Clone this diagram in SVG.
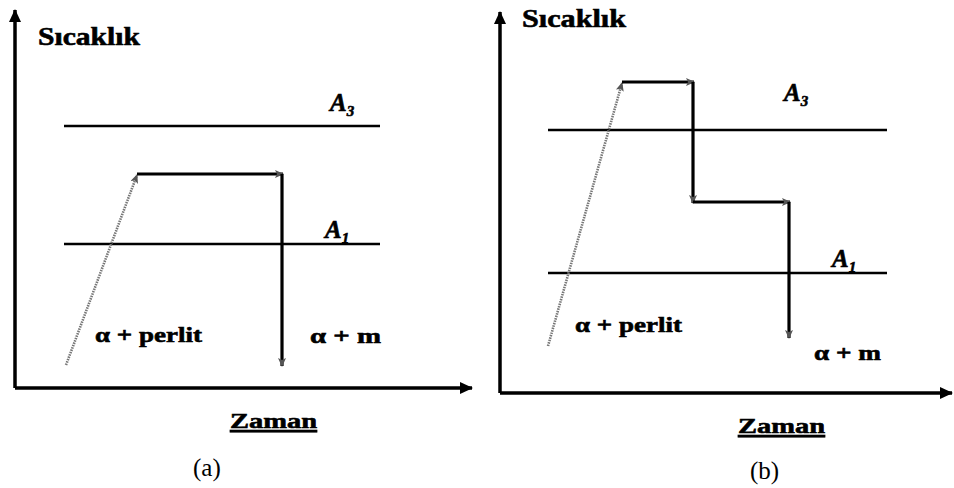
<svg xmlns="http://www.w3.org/2000/svg" width="954" height="488" viewBox="0 0 954 488">
<style>
.axis{stroke:#000;stroke-width:3.5;fill:none}
.lvl{stroke:#000;stroke-width:2.6;fill:none}
.path{stroke:#000;stroke-width:3.2;fill:none}
.heat{stroke:#777;stroke-width:2.6;stroke-dasharray:1.5 1;fill:none}
.lbl{font-family:"Liberation Serif","Times New Roman",serif;font-weight:bold;fill:#000;stroke:#000;stroke-width:0.6}
.ai{font-family:"Liberation Serif","Times New Roman",serif;font-weight:bold;font-style:italic;fill:#000;stroke:#000;stroke-width:0.6}
.cap{font-family:"Liberation Serif","Times New Roman",serif;font-size:25px;fill:#000}
</style>
<defs>
<marker id="ax" markerUnits="userSpaceOnUse" markerWidth="14" markerHeight="12" refX="12" refY="6" orient="auto">
<path d="M0,0 L13,6 L0,12 z" fill="#000"/>
</marker>
<marker id="sm" markerUnits="userSpaceOnUse" markerWidth="10" markerHeight="8" refX="8" refY="4" orient="auto">
<path d="M0,0 L9,4 L0,8 L2,4 z" fill="#555"/>
</marker>
</defs>
<g id="panel-a">
<g id="axes-a">
<path class="axis" d="M15,388 L15,10" marker-end="url(#ax)"/>
<path class="axis" d="M15,388 L472,388" marker-end="url(#ax)"/>
</g>
<g id="levels-a">
<line class="lvl" x1="64" y1="126" x2="380" y2="126"/>
<line class="lvl" x1="64" y1="244" x2="380" y2="244"/>
</g>
<g id="connectors-a">
<path class="heat" d="M66,365 L137,175" marker-end="url(#sm)"/>
<path class="path" d="M137,174 L283,174" marker-end="url(#sm)"/>
<path class="path" d="M282,174 L282,366" marker-end="url(#sm)"/>
</g>
<text class="lbl" x="38" y="45" font-size="25" textLength="102" lengthAdjust="spacingAndGlyphs">Sıcaklık</text>
<text class="ai" x="330" y="111" font-size="25">A<tspan font-size="15" dy="5">3</tspan></text>
<text class="ai" x="325" y="238" font-size="25">A<tspan font-size="15" dy="5">1</tspan></text>
<text class="lbl" x="95" y="342" font-size="22" textLength="107" lengthAdjust="spacingAndGlyphs">α + perlit</text>
<text class="lbl" x="310" y="343" font-size="22" textLength="71" lengthAdjust="spacingAndGlyphs">α + m</text>
<text class="lbl" x="230" y="428" font-size="22" text-decoration="underline" textLength="87" lengthAdjust="spacingAndGlyphs">Zaman</text>
<text class="cap" x="193" y="476">(a)</text>
</g>
<g id="panel-b">
<g id="axes-b">
<path class="axis" d="M500,393 L500,12" marker-end="url(#ax)"/>
<path class="axis" d="M500,393 L952,393" marker-end="url(#ax)"/>
</g>
<g id="levels-b">
<line class="lvl" x1="548" y1="130" x2="887" y2="130"/>
<line class="lvl" x1="548" y1="273" x2="887" y2="273"/>
</g>
<g id="connectors-b">
<path class="heat" d="M548,346 L622,83" marker-end="url(#sm)"/>
<path class="path" d="M622,82 L694,82" marker-end="url(#sm)"/>
<path class="path" d="M693,82 L693,203" marker-end="url(#sm)"/>
<path class="path" d="M693,202 L790,202" marker-end="url(#sm)"/>
<path class="path" d="M789,202 L789,338" marker-end="url(#sm)"/>
</g>
<text class="lbl" x="522" y="27" font-size="25" textLength="104" lengthAdjust="spacingAndGlyphs">Sıcaklık</text>
<text class="ai" x="784" y="101" font-size="25">A<tspan font-size="15" dy="5">3</tspan></text>
<text class="ai" x="832" y="267" font-size="25">A<tspan font-size="15" dy="5">1</tspan></text>
<text class="lbl" x="575" y="332" font-size="22" textLength="107" lengthAdjust="spacingAndGlyphs">α + perlit</text>
<text class="lbl" x="814" y="360" font-size="22" textLength="67" lengthAdjust="spacingAndGlyphs">α + m</text>
<text class="lbl" x="738" y="433" font-size="22" text-decoration="underline" textLength="87" lengthAdjust="spacingAndGlyphs">Zaman</text>
<text class="cap" x="750" y="479">(b)</text>
</g>
</svg>
